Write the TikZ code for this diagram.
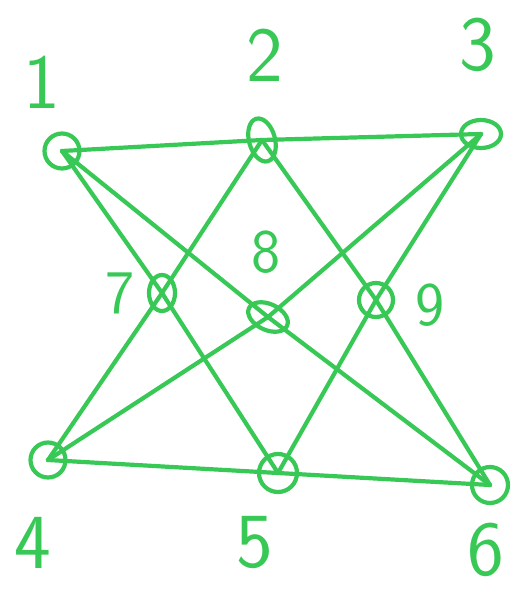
\documentclass[tikz,border=0pt]{standalone}
\usetikzlibrary{shapes.geometric}
\definecolor{pen}{RGB}{56,200,86}
\tikzset{
  vert/.style={draw=pen, line width=4.2pt, circle, minimum size=35pt, inner sep=0pt},
  edge/.style={draw=pen, line width=4.2pt, line cap=round, line join=round},
  biglab/.style={text=pen, font=\sffamily\fontsize{78}{78}\selectfont, inner sep=0pt},
  smalllab/.style={text=pen, font=\sffamily\fontsize{62}{62}\selectfont, inner sep=0pt}
}
\begin{document}
\begin{tikzpicture}[x=1pt,y=-1pt]
\useasboundingbox (0,0) rectangle (521,594);
\node[vert] (n1) at (62,151) {};
\node[vert, ellipse, minimum width=26pt, minimum height=44pt, rotate=15] (n2) at (262,140) {};
\node[vert, ellipse, minimum width=40pt, minimum height=28pt] (n3) at (481,134) {};
\node[vert] (n4) at (48,460) {};
\node[vert, minimum size=38pt] (n5) at (278,473) {};
\node[vert, minimum size=36pt] (n6) at (490,485) {};
\node[vert, ellipse, minimum width=26pt, minimum height=36pt] (n7) at (162,293) {};
\node[vert, ellipse, minimum width=42pt, minimum height=26pt, rotate=-25] (n8) at (268,317) {};
\node[vert, minimum size=34pt] (n9) at (376,300) {};
\node[biglab] (l1) at (42,82) {1};
\node[biglab] (l2) at (265,55) {2};
\node[biglab] (l3) at (478,45) {3};
\node[biglab] (l4) at (33,543) {4};
\node[biglab] (l5) at (255,543) {5};
\node[biglab] (l6) at (486,550) {6};
\node[smalllab] (l7) at (120,293) {7};
\node[smalllab] (l8) at (266,252) {8};
\node[smalllab] (l9) at (430,305) {9};
\draw[edge] (n1.center) -- (n2.center) -- (n3.center);
\draw[edge] (n4.center) -- (n5.center) -- (n6.center);
\draw[edge] (n1.center) -- (n7.center) -- (n5.center);
\draw[edge] (n1.center) -- (n8.center) -- (n6.center);
\draw[edge] (n3.center) -- (n8.center) -- (n4.center);
\draw[edge] (n3.center) -- (n9.center) -- (n5.center);
\draw[edge] (n2.center) -- (n7.center) -- (n4.center);
\draw[edge] (n2.center) -- (n9.center) -- (n6.center);
\end{tikzpicture}
\end{document}
